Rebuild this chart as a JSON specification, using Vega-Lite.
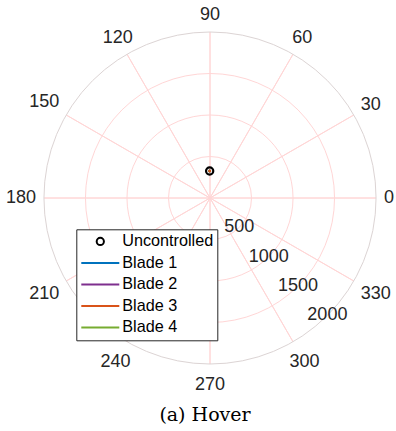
{
  "$schema": "https://vega.github.io/schema/vega-lite/v6.json",
  "width": 332,
  "height": 332,
  "autosize": {"type": "none"},
  "padding": {"left": 44, "top": 32, "right": 20, "bottom": 67},
  "background": "white",
  "config": {
    "view": {"stroke": null},
    "legend": {
      "orient": "none",
      "legendX": 32.3,
      "legendY": 197.3,
      "fillColor": "white",
      "strokeColor": "#262626",
      "cornerRadius": 0,
      "padding": 4,
      "rowPadding": 4.5,
      "clipHeight": 16.2,
      "symbolSize": 1444,
      "symbolStrokeWidth": 2,
      "symbolFillColor": "transparent",
      "symbolOffset": 0,
      "labelOffset": 2,
      "labelFont": "Liberation Sans",
      "labelFontSize": 16.2,
      "labelColor": "#000000"
    }
  },
  "title": {
    "text": "(a) Hover",
    "orient": "bottom",
    "font": "DejaVu Serif",
    "fontSize": 19,
    "fontWeight": "normal",
    "color": "black",
    "offset": 12,
    "dx": -5
  },
  "datasets": {
    "rings": [{"r": 500}, {"r": 1000}, {"r": 1500}],
    "outer": [{"r": 2000}],
    "angles": [
      {"angle": 0, "label": "0"},
      {"angle": 30, "label": "30"},
      {"angle": 60, "label": "60"},
      {"angle": 90, "label": "90"},
      {"angle": 120, "label": "120"},
      {"angle": 150, "label": "150"},
      {"angle": 180, "label": "180"},
      {"angle": 210, "label": "210"},
      {"angle": 240, "label": "240"},
      {"angle": 270, "label": "270"},
      {"angle": 300, "label": "300"},
      {"angle": 330, "label": "330"}
    ],
    "radial": [
      {"r": 500, "label": "500"},
      {"r": 1000, "label": "1000"},
      {"r": 1500, "label": "1500"},
      {"r": 2000, "label": "2000"}
    ],
    "uncontrolled": [{"series": "Uncontrolled", "x": -4, "y": 325}],
    "blades": [
      {"series": "Blade 1", "x": -4, "y": 325},
      {"series": "Blade 2", "x": -4, "y": 325},
      {"series": "Blade 4", "x": -4, "y": 325},
      {"series": "Blade 3", "x": -4, "y": 325}
    ]
  },
  "layer": [
    {
      "data": {"name": "rings"},
      "mark": {"type": "arc", "filled": false, "stroke": "#FFD6D6", "strokeWidth": 1, "theta": 0, "theta2": 6.2832},
      "encoding": {
        "radius": {"field": "r", "type": "quantitative", "stack": false, "scale": {"type": "linear", "domain": [0, 2000], "range": [0, 166], "zero": true}}
      }
    },
    {
      "data": {"name": "angles"},
      "mark": {"type": "arc", "filled": false, "stroke": "#FFD6D6", "strokeWidth": 1, "radius": 166},
      "encoding": {
        "theta": {"field": "angle", "type": "quantitative", "stack": false, "scale": {"domain": [0, 360], "range": [1.5708, -4.7124]}},
        "theta2": {"field": "angle"}
      }
    },
    {
      "data": {"name": "outer"},
      "mark": {"type": "arc", "filled": false, "stroke": "#DCD4D4", "strokeWidth": 1, "theta": 0, "theta2": 6.2832},
      "encoding": {
        "radius": {"field": "r", "type": "quantitative", "stack": false}
      }
    },
    {
      "data": {"name": "angles"},
      "mark": {
        "type": "text",
        "radius": {"expr": "174 + min(length(datum.label) * 5 / max(abs(cos(datum.angle * PI / 180)), 0.001), (sin(datum.angle * PI / 180) > 0 ? 9 : 13) / max(abs(sin(datum.angle * PI / 180)), 0.001))"},
        "font": "Liberation Sans",
        "fontSize": 18,
        "color": "#262626",
        "align": "center",
        "baseline": "middle"
      },
      "encoding": {
        "theta": {"field": "angle", "type": "quantitative", "stack": false},
        "text": {"field": "label"}
      }
    },
    {
      "data": {"name": "radial"},
      "mark": {"type": "text", "theta": 2.3562, "font": "Liberation Sans", "fontSize": 18, "color": "#262626", "align": "center", "baseline": "middle"},
      "encoding": {
        "radius": {"field": "r", "type": "quantitative", "stack": false},
        "text": {"field": "label"}
      }
    },
    {
      "data": {"name": "uncontrolled"},
      "mark": {"type": "point", "filled": false, "strokeWidth": 2.2, "size": 1444, "opacity": 1},
      "encoding": {
        "x": {"field": "x", "type": "quantitative", "scale": {"domain": [-2000, 2000], "nice": false, "zero": false}, "axis": null},
        "y": {"field": "y", "type": "quantitative", "scale": {"domain": [-2000, 2000], "nice": false, "zero": false}, "axis": null},
        "color": {
          "field": "series",
          "type": "nominal",
          "scale": {
            "domain": ["Uncontrolled", "Blade 1", "Blade 2", "Blade 3", "Blade 4"],
            "range": ["#000000", "#0072BD", "#7E2F8E", "#D95319", "#77AC30"]
          },
          "legend": {"title": null}
        },
        "shape": {
          "field": "series",
          "type": "nominal",
          "scale": {
            "domain": ["Uncontrolled", "Blade 1", "Blade 2", "Blade 3", "Blade 4"],
            "range": ["M-0.19,0A0.19,0.19,0,1,0,0.19,0A0.19,0.19,0,1,0,-0.19,0Z", "stroke", "stroke", "stroke", "stroke"]
          },
          "legend": {"title": null}
        }
      }
    },
    {
      "data": {"name": "blades"},
      "mark": {"type": "point", "shape": "circle", "filled": false, "strokeWidth": 1.2, "size": 3, "opacity": 1},
      "encoding": {
        "x": {"field": "x", "type": "quantitative"},
        "y": {"field": "y", "type": "quantitative"},
        "color": {"field": "series", "type": "nominal", "legend": {"title": null}}
      }
    }
  ]
}
